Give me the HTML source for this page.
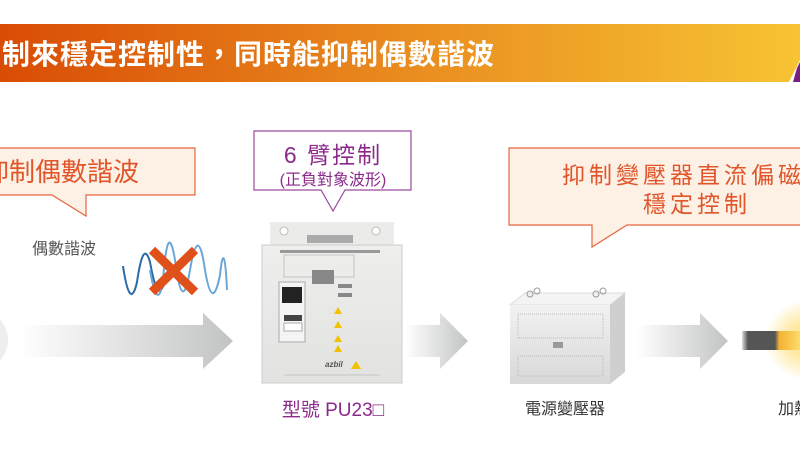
<!DOCTYPE html>
<html><head><meta charset="utf-8"><style>
html,body{margin:0;padding:0;background:#fff;width:800px;height:450px;overflow:hidden}
svg{display:block}
text{font-family:"Liberation Sans","Noto Sans CJK TC",sans-serif}
</style></head><body>
<svg width="800" height="450" viewBox="0 0 800 450" xmlns="http://www.w3.org/2000/svg">
<defs>
<linearGradient id="ban" x1="0" x2="1" y1="0" y2="0"><stop offset="0" stop-color="#d94c05"/><stop offset="0.5" stop-color="#e98b1f"/><stop offset="1" stop-color="#f7c333"/></linearGradient>
<linearGradient id="arr" x1="0" x2="1"><stop offset="0" stop-color="#fff"/><stop offset="1" stop-color="#c2c4c3"/></linearGradient>
<linearGradient id="dev" x1="0" x2="0" y1="0" y2="1"><stop offset="0" stop-color="#eeeeec"/><stop offset="1" stop-color="#e2e2e0"/></linearGradient>
<linearGradient id="tr" x1="0" x2="0" y1="0" y2="1"><stop offset="0" stop-color="#f2f2f2"/><stop offset="1" stop-color="#d8d8d8"/></linearGradient>
<linearGradient id="rod" x1="0" x2="1"><stop offset="0" stop-color="#ddd"/><stop offset="0.1" stop-color="#555"/><stop offset="0.55" stop-color="#555"/><stop offset="0.62" stop-color="#f4b133"/><stop offset="1" stop-color="#ffe070"/></linearGradient>
<radialGradient id="glow" cx="0.5" cy="0.5" r="0.5"><stop offset="0" stop-color="#fff7c0"/><stop offset="0.4" stop-color="#ffd860" stop-opacity="0.6"/><stop offset="1" stop-color="#ffd860" stop-opacity="0"/></radialGradient>
</defs>
<!-- banner -->
<polygon points="0,24 800,24 800,60 789,82 0,82" fill="url(#ban)"/>
<polygon points="797,68 800,62 800,82 793,82" fill="#7a1f7e"/>
<text x="2" y="64" font-size="28" font-weight="bold" fill="#fff" letter-spacing="1">制來穩定控制性，同時能抑制偶數諧波</text>

<!-- left callout -->
<path d="M-2,148 H195 V195 H86 V216 L52,195 H-2 Z" fill="#fdf0e5" stroke="#e8643c" stroke-width="1.2"/>
<text x="-17" y="181" font-size="26" fill="#e0552a">抑制偶數諧波</text>
<text x="32" y="254" font-size="16" fill="#555">偶數諧波</text>
<!-- waves -->
<path d="M123,266 C128,300 133,300 137,282 C141,255 145,245 150,262 C155,290 160,300 165,280" fill="none" stroke="#2a6aa8" stroke-width="2"/>
<path d="M150,270 C155,300 160,302 163,280 C166,240 170,230 175,260 C180,300 185,300 190,270 C195,240 200,235 205,270 C210,300 215,300 220,275 C222,255 225,245 227,290" fill="none" stroke="#6aa6d8" stroke-width="2"/>
<path d="M152,250 L195,292 M195,250 L152,292" stroke="#e0501a" stroke-width="9"/>
<!-- arrow 1 -->
<circle cx="-22" cy="340" r="30" fill="#eee"/>
<polygon points="18,325 203,325 203,313 233,341 203,369 203,357 18,357" fill="url(#arr)"/>

<!-- purple callout -->
<path d="M254,131 H411 V190 H345 L333,211 L321,190 H254 Z" fill="#fff" stroke="#9b4a9b" stroke-width="1.2"/>
<text x="333" y="163" font-size="23" fill="#8b2a8b" text-anchor="middle" letter-spacing="2">6 臂控制</text>
<text x="333" y="185" font-size="16" fill="#8b2a8b" text-anchor="middle">(正負對象波形)</text>
<!-- device -->
<rect x="270" y="222" width="124" height="30" fill="#ebebea"/>
<circle cx="284" cy="231" r="4" fill="#fff" stroke="#bbb"/>
<circle cx="376" cy="231" r="4" fill="#fff" stroke="#bbb"/>
<rect x="307" y="235" width="46" height="8" fill="#aaa"/>
<rect x="262" y="245" width="140" height="138" fill="url(#dev)" stroke="#ccc"/>
<rect x="280" y="250" width="100" height="3" fill="#999"/>
<rect x="284" y="255" width="70" height="22" fill="none" stroke="#aaa" stroke-width="0.6"/>
<rect x="279" y="282" width="26" height="60" fill="#f4f4f4" stroke="#aaa"/>
<rect x="282" y="287" width="20" height="16" fill="#222"/>
<rect x="284" y="315" width="18" height="6" fill="#444"/>
<rect x="284" y="323" width="18" height="8" fill="#fff" stroke="#aaa"/>
<g fill="#888"><rect x="312" y="270" width="22" height="14"/><rect x="338" y="284" width="14" height="4"/><rect x="338" y="293" width="14" height="4"/></g>
<g fill="#f2c200"><polygon points="334,314 338,307 342,314"/><polygon points="334,328 338,321 342,328"/><polygon points="334,342 338,335 342,342"/><polygon points="334,352 338,345 342,352"/><polygon points="351,369 356,361 361,369"/></g>
<text x="325" y="367" font-size="8" font-weight="bold" font-style="italic" fill="#555">azbil</text>
<line x1="284" y1="375" x2="380" y2="375" stroke="#aaa" stroke-width="0.6"/>
<text x="333" y="416" font-size="19" fill="#8b2a8b" text-anchor="middle">型號 PU23□</text>

<!-- arrow 2 -->
<polygon points="405,325 440,325 440,313 468,341 440,369 440,357 405,357" fill="url(#arr)"/>

<!-- right callout -->
<path d="M509,148 H802 V225 H627 L592,247 V225 H509 Z" fill="#fdf0e5" stroke="#e8643c" stroke-width="1.2"/>
<text x="562" y="183" font-size="23" fill="#e0552a" letter-spacing="4">抑制變壓器直流偏磁</text>
<text x="697" y="212" font-size="23" fill="#e0552a" text-anchor="middle" letter-spacing="4">穩定控制</text>

<!-- transformer -->
<polygon points="510,305 525,293 625,293 610,305" fill="#f4f4f4" stroke="#ddd"/>
<polygon points="610,305 625,293 625,372 610,384" fill="#cfcfcf"/>
<rect x="510" y="305" width="100" height="79" fill="url(#tr)"/>
<rect x="518" y="314" width="85" height="24" fill="none" stroke="#bbb" stroke-dasharray="1,1"/>
<rect x="518" y="356" width="85" height="20" fill="none" stroke="#bbb" stroke-dasharray="1,1"/>
<rect x="553" y="342" width="10" height="6" fill="#999"/>
<circle cx="530" cy="294" r="3" fill="none" stroke="#999"/><circle cx="537" cy="291" r="3" fill="none" stroke="#999"/>
<circle cx="596" cy="294" r="3" fill="none" stroke="#999"/><circle cx="603" cy="291" r="3" fill="none" stroke="#999"/>
<text x="565" y="414" font-size="16" fill="#333" text-anchor="middle">電源變壓器</text>

<!-- arrow 3 -->
<polygon points="636,325 700,325 700,313 728,341 700,369 700,357 636,357" fill="url(#arr)"/>

<!-- electrode -->
<circle cx="805" cy="340" r="40" fill="url(#glow)"/>
<rect x="742" y="331" width="60" height="19" fill="url(#rod)"/>
<text x="778" y="414" font-size="16" fill="#333">加熱</text>
</svg>
</body></html>
